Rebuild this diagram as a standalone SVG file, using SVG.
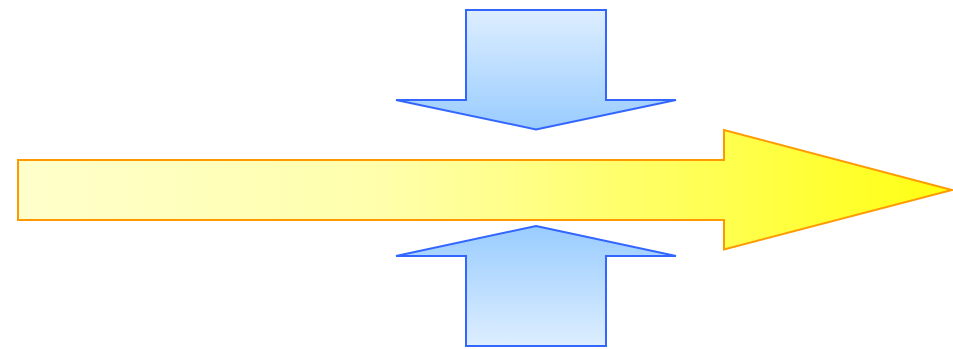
<svg xmlns="http://www.w3.org/2000/svg" width="953" height="349" viewBox="0 0 953 349">
<defs>
<linearGradient id="gy" x1="0" y1="0" x2="1" y2="0">
<stop offset="0" stop-color="#FFFFCC"/>
<stop offset="0.4" stop-color="#FFFFAA"/>
<stop offset="1" stop-color="#FFFF11"/>
</linearGradient>
<linearGradient id="gdown" x1="0" y1="0" x2="0" y2="1">
<stop offset="0" stop-color="#DDEEFF"/>
<stop offset="1" stop-color="#99CCFF"/>
</linearGradient>
<linearGradient id="gup" x1="0" y1="1" x2="0" y2="0">
<stop offset="0" stop-color="#DDEEFF"/>
<stop offset="1" stop-color="#99CCFF"/>
</linearGradient>
</defs>
<style>
.blue{stroke:#3366FF;stroke-width:2}
.yellow{stroke:#FF9900;stroke-width:2}
</style>
<g id="main-arrow">
<polygon class="yellow" fill="url(#gy)" points="18,160 724,160 724,130 952,190 724,249.5 724,220 18,220"/>
</g>
<g id="down-arrow">
<polygon class="blue" fill="url(#gdown)" points="466,10 606,10 606,100 676,100 536,129.5 396,100 466,100"/>
</g>
<g id="up-arrow">
<polygon class="blue" fill="url(#gup)" points="536,226 676,256 606,256 606,346 466,346 466,256 396,256"/>
</g>
<g id="connectors"></g>
</svg>
